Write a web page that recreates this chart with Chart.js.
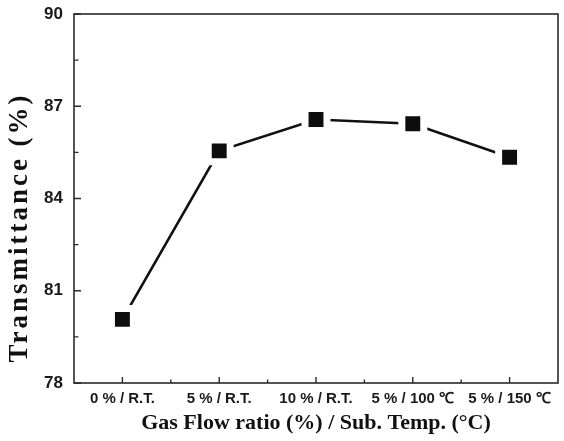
<!DOCTYPE html>
<html><head><meta charset="utf-8">
<script src="https://cdn.jsdelivr.net/npm/chart.js@4.4.1/dist/chart.umd.min.js"></script>
<style>html,body{margin:0;padding:0;background:#fff}#wrap{width:564px;height:441px}</style>
</head><body><div id="wrap"><canvas id="c" width="564" height="441"></canvas></div>
<script>
const categories = ['0 % / R.T.', '5 % / R.T.', '10 % / R.T.', '5 % / 100 \u2103', '5 % / 150 \u2103'];
const transmittance = [80.07, 85.55, 86.57, 86.43, 85.34];
const yTicks = [78, 81, 84, 87, 90];
const xTitle = 'Gas Flow ratio (%) / Sub. Temp. (\u00B0C)';
const yTitle = 'Transmittance (%)';

const frameAndTicks = {
  id: 'frameAndTicks',
  beforeDraw(chart) {
    const s = chart.scales.y;
    if (!s.__patched) {
      const orig = s.drawTitle.bind(s);
      s.drawTitle = function () {
        const ctx = this.ctx;
        ctx.save();
        ctx.letterSpacing = '3px';
        ctx.translate(0, 29);
        orig();
        ctx.restore();
      };
      s.__patched = true;
    }
  },
  beforeDatasetsDraw(chart) {
    const {ctx, chartArea: a, scales: {x, y}} = chart;
    ctx.save();
    ctx.strokeStyle = '#2a2a2a';
    ctx.lineWidth = 1.6;
    ctx.strokeRect(a.left, a.top, a.right - a.left, a.bottom - a.top);
    ctx.lineWidth = 1.4;
    ctx.beginPath();
    yTicks.forEach((v, i) => {
      const py = y.getPixelForValue(v);
      ctx.moveTo(a.left, py); ctx.lineTo(a.left + 7, py);
      if (i < yTicks.length - 1) {
        const pm = y.getPixelForValue((v + yTicks[i + 1]) / 2);
        ctx.moveTo(a.left, pm); ctx.lineTo(a.left + 4.5, pm);
      }
    });
    categories.forEach((c, i) => {
      const px = x.getPixelForValue(i);
      ctx.moveTo(px, a.bottom); ctx.lineTo(px, a.bottom - 6);
      if (i < categories.length - 1) {
        const pm = (px + x.getPixelForValue(i + 1)) / 2;
        ctx.moveTo(pm, a.bottom); ctx.lineTo(pm, a.bottom - 3.5);
      }
    });
    ctx.stroke();
    ctx.restore();
  }
};

new Chart(document.getElementById('c'), {
  type: 'line',
  data: {
    labels: categories,
    datasets: [{
      data: transmittance,
      borderColor: '#111',
      borderWidth: 2.6,
      tension: 0,
      pointStyle: 'rect',
      pointRadius: 15.5,
      pointHoverRadius: 15.5,
      pointBackgroundColor: '#0d0d0d',
      pointBorderColor: '#ffffff',
      pointBorderWidth: 7
    }]
  },
  options: {
    responsive: false,
    devicePixelRatio: 1,
    animation: false,
    layout: {autoPadding: false, padding: {top: 14, right: 6, left: 0, bottom: 0}},
    plugins: {legend: {display: false}, tooltip: {enabled: false}},
    scales: {
      x: {
        type: 'category',
        offset: true,
        grid: {display: false, drawTicks: false},
        border: {display: false},
        ticks: {
          color: '#1a1a1a',
          font: {family: 'Liberation Sans', size: 15, weight: 'bold'},
          padding: 7,
          maxRotation: 0,
          autoSkip: false
        },
        title: {
          display: true,
          text: xTitle,
          color: '#111',
          font: {family: 'Liberation Serif', size: 22, weight: 'bold'},
          padding: {top: 0, bottom: 4}
        },
        afterFit(s) { s.height = 58; s.paddingLeft = 0; s.paddingRight = 0; }
      },
      y: {
        min: 78,
        max: 90,
        grid: {display: false, drawTicks: false},
        border: {display: false},
        ticks: {
          color: '#1a1a1a',
          font: {family: 'Liberation Sans', size: 17, weight: 'bold'},
          padding: 11
        },
        afterBuildTicks(s) { s.ticks = yTicks.map(v => ({value: v})); },
        title: {
          display: true,
          text: yTitle,
          color: '#111',
          font: {family: 'Liberation Serif', size: 27, weight: 'bold'},
          padding: {top: 4, bottom: 0}
        },
        afterFit(s) { s.width = 74; s.paddingTop = 0; s.paddingBottom = 0; }
      }
    }
  },
  plugins: [frameAndTicks]
});
</script>
</body></html>
